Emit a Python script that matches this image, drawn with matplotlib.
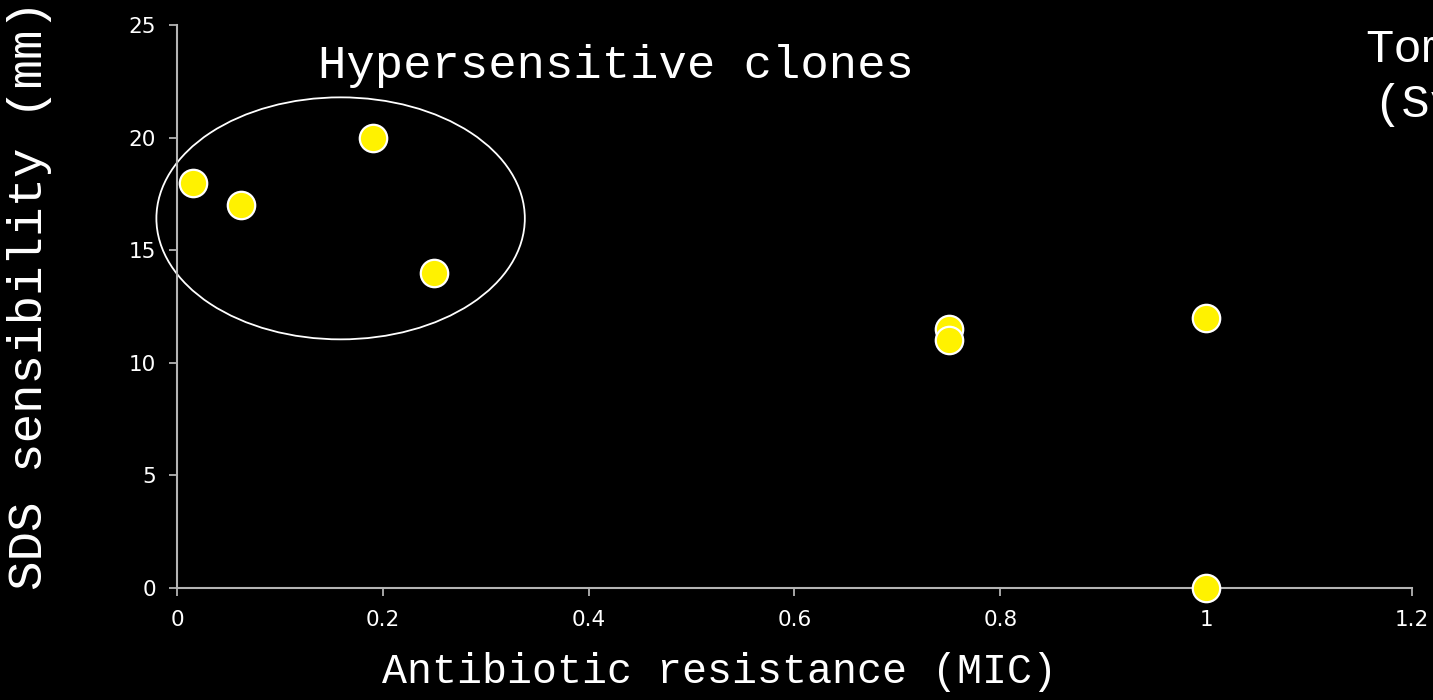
import matplotlib.pyplot as plt
from matplotlib.patches import Ellipse

# data
mic = [1/64, 1/16, 0.19, 0.25, 0.75, 0.75, 1.0, 1.0]
sds = [18, 17, 20, 14, 11.5, 11, 12, 0]
xticks = [0, 0.2, 0.4, 0.6, 0.8, 1, 1.2]
xticklabels = ['0', '0.2', '0.4', '0.6', '0.8', '1', '1.2']
yticks = [0, 5, 10, 15, 20, 25]

mono = 'Liberation Mono'
axcol = '#b4b4b4'

fig = plt.figure(figsize=(14.33, 7), dpi=100, facecolor='black')
ax = fig.add_axes([0.1235, 0.16, 0.8618, 0.804])
ax.set_facecolor('black')

ax.scatter(mic, sds, s=390, color='#fff200', edgecolors='white',
           linewidths=1.6, zorder=3, clip_on=False)

# circle round the hypersensitive clones
ax.add_patch(Ellipse((0.159, 16.42), 0.358, 10.75, fill=False,
                     edgecolor='white', linewidth=1.3, clip_on=False))
ax.text(0.137, 23.2, 'Hypersensitive clones', family=mono, fontsize=34,
        color='white', ha='left', va='center')

fig.text(1365/1433, 1 - 50/700, 'Tom', family=mono, fontsize=34,
         color='white', ha='left', va='center')
fig.text(1373/1433, 1 - 105/700, '(Sy', family=mono, fontsize=34,
         color='white', ha='left', va='center')

ax.set_xlim(0, 1.2)
ax.set_ylim(0, 25)
ax.set_xticks(xticks)
ax.set_xticklabels(xticklabels)
ax.set_yticks(yticks)

for s in ['top', 'right']:
    ax.spines[s].set_visible(False)
for s in ['left', 'bottom']:
    ax.spines[s].set_color(axcol)
    ax.spines[s].set_linewidth(1.5)
ax.tick_params(colors=axcol, labelcolor='white', labelsize=15.5,
               length=6, width=1.3, direction='out')
ax.tick_params(axis='x', pad=10)
ax.tick_params(axis='y', pad=9)

# axis titles sit centred on the figure, as in the slide
fig.text(720/1433, 1 - 672/700, 'Antibiotic resistance (MIC)', family=mono,
         fontsize=30, color='white', ha='center', va='center')
fig.text(30/1433, 1 - 295/700, 'SDS sensibility (mm)', family=mono,
         fontsize=35.5, color='white', ha='center', va='center', rotation=90)

fig.savefig('out.png', facecolor='black')
